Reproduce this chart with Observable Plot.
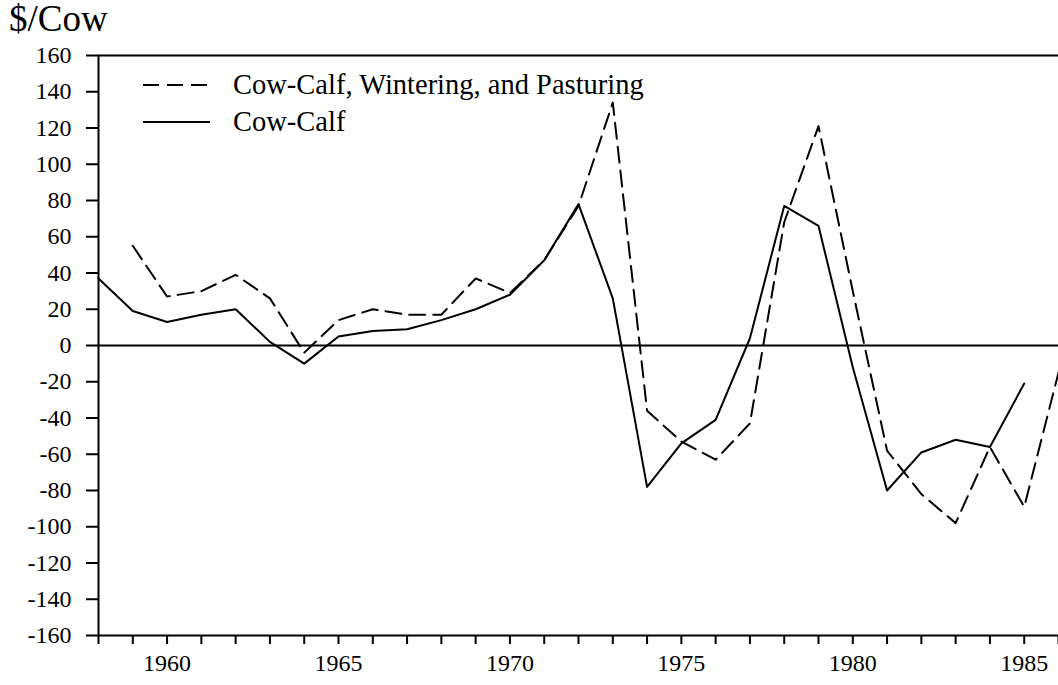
<!DOCTYPE html>
<html>
<head>
<meta charset="utf-8">
<script src="https://cdn.jsdelivr.net/npm/d3@7"></script>
<script src="https://cdn.jsdelivr.net/npm/@observablehq/plot@0.6"></script>
<style>
  html, body { margin: 0; padding: 0; background: #fff; }
  body { width: 1058px; height: 685px; position: relative; overflow: hidden; font-family: "Liberation Serif", "Times New Roman", serif; }
  #title { position: absolute; left: 9px; top: -3px; font-size: 37px; color: #000; }
  #legend { position: absolute; left: 143px; top: 66px; font-size: 28.5px; color: #000; }
  .row { display: flex; align-items: center; height: 37px; }
  .row svg { margin-right: 23px; }
</style>
</head>
<body>
<div id="title">$/Cow</div>
<div id="chart"></div>
<div id="legend"></div>
<script>
// Cow-Calf (solid line)
const cowCalfYears = [1958,1959,1960,1961,1962,1963,1964,1965,1966,1967,1968,1969,1970,1971,1972,1973,1974,1975,1976,1977,1978,1979,1980,1981,1982,1983,1984,1985];
const cowCalfValues = [37,19,13,17,20,2,-10,5,8,9,14,20,28,47,78,26,-78,-54,-41,4,77,66,-12,-80,-59,-52,-56,-21];

// Cow-Calf, Wintering, and Pasturing (dashed line)
const cwpYears = [1959,1960,1961,1962,1963,1964,1965,1966,1967,1968,1969,1970,1971,1972,1973,1974,1975,1976,1977,1978,1979,1980,1981,1982,1983,1984,1985,1986];
const cwpValues = [55,27,30,39,26,-4,14,20,17,17,37,29,47,77,134,-36,-53,-63,-43,68,121,30,-58,-82,-98,-56,-89,-15];

const seriesNames = ["Cow-Calf, Wintering, and Pasturing", "Cow-Calf"];
const yTicks = d3.range(-160, 161, 20);
const xTicks = d3.range(1958, 1987, 1);
const labeledYears = [1960, 1965, 1970, 1975, 1980, 1985];

const solid = cowCalfYears.map((y, i) => ({year: y, value: cowCalfValues[i]}));
const dashed = cwpYears.map((y, i) => ({year: y, value: cwpValues[i]}));

const font = '"Liberation Serif", "Times New Roman", serif';

const chart = Plot.plot({
  width: 1058,
  height: 685,
  marginTop: 55,
  marginBottom: 50,
  marginLeft: 98,
  marginRight: 0,
  style: {fontFamily: font, fontSize: "24px", color: "#000", background: "#fff", overflow: "hidden"},
  x: {domain: [1958, 1986]},
  y: {domain: [-160, 160]},
  marks: [
    Plot.axisY({ticks: yTicks, tickSize: 12, tickPadding: 15, tickFormat: d => String(d), fontSize: 24, strokeWidth: 2, label: null}),
    Plot.axisX({ticks: xTicks, tickSize: 9, tickPadding: 9, tickFormat: d => labeledYears.includes(d) ? String(d) : "", fontSize: 24, strokeWidth: 2, label: null}),
    Plot.ruleX([1958], {stroke: "#000", strokeWidth: 2}),
    Plot.ruleY([-160], {stroke: "#000", strokeWidth: 2}),
    Plot.ruleY([160], {stroke: "#000", strokeWidth: 2}),
    Plot.ruleY([0], {stroke: "#000", strokeWidth: 2}),
    Plot.line(dashed, {x: "year", y: "value", stroke: "#000", strokeWidth: 2, strokeDasharray: "16,8"}),
    Plot.line(solid, {x: "year", y: "value", stroke: "#000", strokeWidth: 2})
  ]
});
document.getElementById("chart").appendChild(chart);

// legend
const legend = document.getElementById("legend");
const dashes = ["16,8", null];
seriesNames.forEach((name, i) => {
  const row = document.createElement("div");
  row.className = "row";
  const s = d3.create("svg").attr("width", 67).attr("height", 6);
  s.append("line").attr("x1", 0).attr("x2", 67).attr("y1", 3).attr("y2", 3)
    .attr("stroke", "#000").attr("stroke-width", 2)
    .attr("stroke-dasharray", dashes[i]);
  row.appendChild(s.node());
  const t = document.createElement("span");
  t.textContent = name;
  row.appendChild(t);
  legend.appendChild(row);
});
</script>
</body>
</html>
